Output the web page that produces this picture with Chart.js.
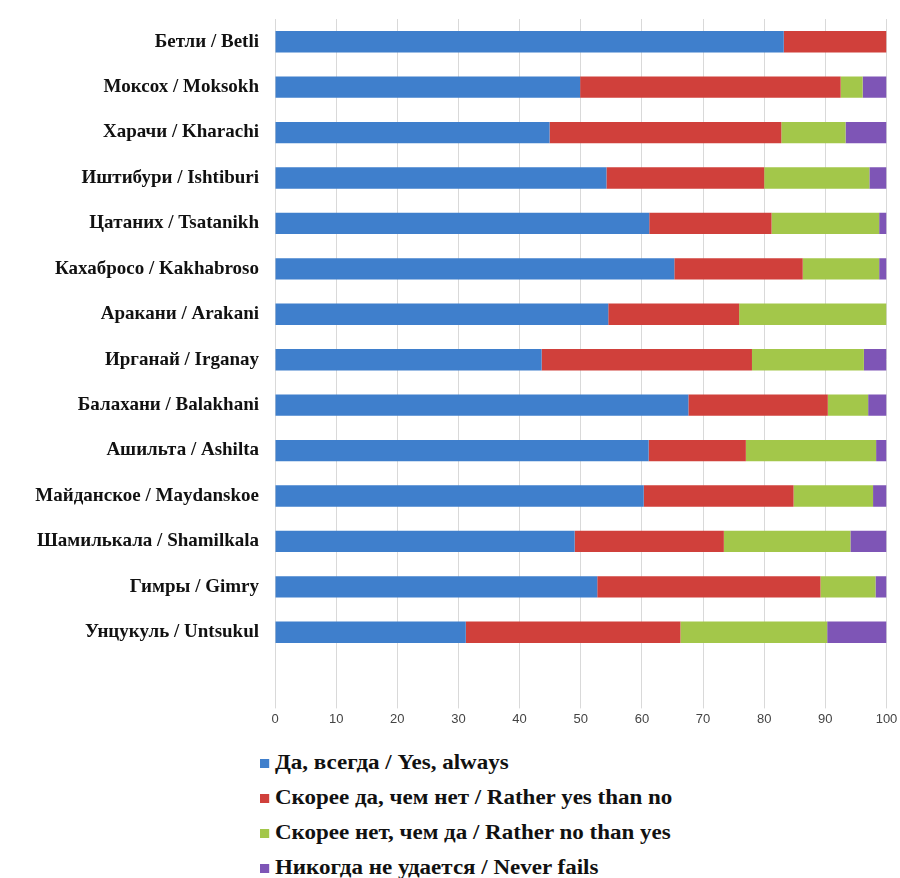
<!DOCTYPE html>
<html>
<head>
<meta charset="utf-8">
<script src="https://cdn.jsdelivr.net/npm/chart.js@4.4.1/dist/chart.umd.min.js"></script>
<style>
  body { margin: 0; background: #fff; }
  #wrap { position: relative; width: 900px; height: 735px; }
  #legend { position: absolute; left: 260px; top: 747px; margin: 0; padding: 0; list-style: none;
            font: bold 20px "Liberation Serif", "Times New Roman", serif; color: #111;
            transform: scaleX(1.15); transform-origin: 0 0; }
  #legend li { height: 35px; line-height: 30px; white-space: nowrap; }
  #legend span { display: inline-block; width: 8px; height: 9px; margin-right: 5px; vertical-align: 1px; }
</style>
</head>
<body>
<div id="wrap"><canvas id="mycanvas"></canvas></div>
<ul id="legend"></ul>
<script>
var villages = [
  'Бетли / Betli', 'Моксох / Moksokh', 'Харачи / Kharachi', 'Иштибури / Ishtiburi',
  'Цатаних / Tsatanikh', 'Кахабросо / Kakhabroso', 'Аракани / Arakani', 'Ирганай / Irganay',
  'Балахани / Balakhani', 'Ашильта / Ashilta', 'Майданское / Maydanskoe',
  'Шамилькала / Shamilkala', 'Гимры / Gimry', 'Унцукуль / Untsukul'
];
var answers = [
  'Да, всегда / Yes, always',
  'Скорее да, чем нет / Rather yes than no',
  'Скорее нет, чем да / Rather no than yes',
  'Никогда не удается / Never fails'
];
var yesAlways  = [83.2, 49.9, 44.9, 54.2, 61.2, 65.3, 54.5, 43.6, 67.6, 61.1, 60.3, 49.0, 52.7, 31.2];
var ratherYes  = [16.8, 42.6, 37.9, 25.8, 20.0, 21.0, 21.4, 34.4, 22.8, 15.9, 24.5, 24.4, 36.5, 35.1];
var ratherNo   = [0, 3.6, 10.5, 17.2, 17.6, 12.5, 24.1, 18.3, 6.6, 21.3, 13.0, 20.7, 9.0, 24.0];
var neverFails = [0, 3.9, 6.7, 2.8, 1.2, 1.2, 0, 3.7, 3.0, 1.7, 2.2, 5.9, 1.8, 9.7];
var xTicks = [0, 10, 20, 30, 40, 50, 60, 70, 80, 90, 100];

var colors = ['#3f7fcc', '#d0403b', '#a3c74a', '#7e55b6'];
var series = [yesAlways, ratherYes, ratherNo, neverFails];

// one empty slot under the last village keeps the gridlines running down to the axis
var labels = villages.concat(['']);

var datasets = [];
for (var i in series) {
  datasets.push({
    label: answers[i],
    data: series[i],
    backgroundColor: colors[i],
    borderWidth: 0,
    categoryPercentage: 1,
    barPercentage: 0.47
  });
}

var ctx = document.getElementById('mycanvas');
var barGraph = new Chart(ctx, {
  type: 'bar',
  data: { labels: labels, datasets: datasets },
  options: {
    indexAxis: 'y',
    responsive: true,
    maintainAspectRatio: false,
    animation: false,
    layout: { padding: { top: 19, right: 13.5, bottom: 5, left: 0 } },
    plugins: { legend: { display: false }, tooltip: { enabled: false } },
    scales: {
      x: {
        stacked: true,
        min: 0,
        max: 100,
        afterBuildTicks: function(scale) {
          scale.ticks = xTicks.map(function(v) { return { value: v }; });
        },
        afterFit: function(scale) { scale.paddingLeft = 0; scale.paddingRight = 0; },
        grid: { color: '#d9d9d9', lineWidth: 1, tickLength: 8 },
        border: { display: false },
        ticks: { color: '#444', padding: 3, font: { family: 'Liberation Sans', size: 13 } }
      },
      y: {
        stacked: true,
        afterFit: function(scale) {
          scale.width = 275;
          scale.paddingTop = 0;
          scale.paddingBottom = 0;
        },
        grid: { display: false },
        border: { display: false },
        ticks: { color: '#111', padding: 8, font: { family: 'Liberation Serif', size: 19, weight: 'bold' } }
      }
    }
  }
});

var legend = document.getElementById('legend');
barGraph.data.datasets.forEach(function(ds) {
  var li = document.createElement('li');
  var box = document.createElement('span');
  box.style.background = ds.backgroundColor;
  li.appendChild(box);
  li.appendChild(document.createTextNode(ds.label));
  legend.appendChild(li);
});
</script>
</body>
</html>
